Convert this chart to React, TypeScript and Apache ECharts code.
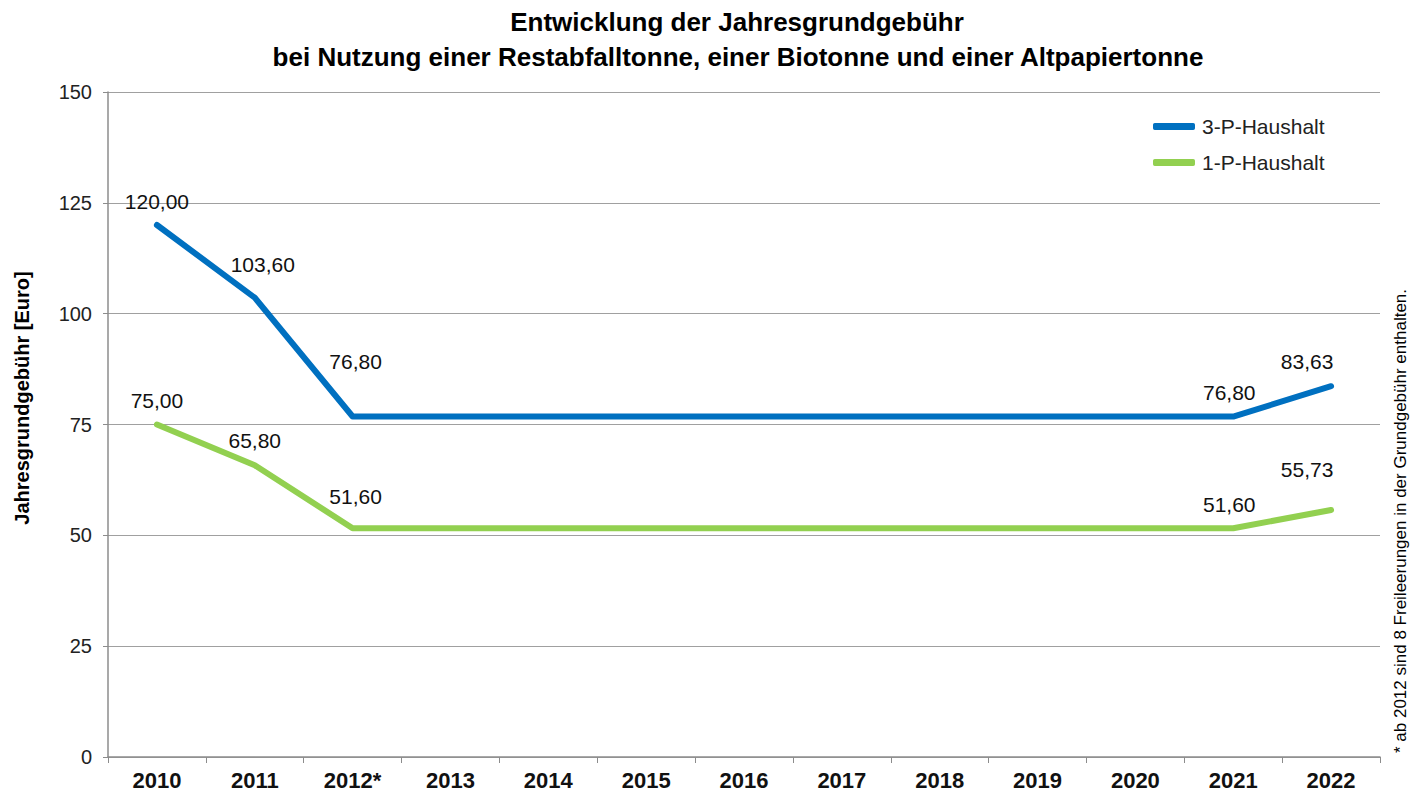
import React, { useEffect, useRef } from "react";
import * as echarts from "echarts";

const years = ["2010", "2011", "2012*", "2013", "2014", "2015", "2016", "2017", "2018", "2019", "2020", "2021", "2022"];
const household3 = [120.0, 103.6, 76.8, 76.8, 76.8, 76.8, 76.8, 76.8, 76.8, 76.8, 76.8, 76.8, 83.63];
const household1 = [75.0, 65.8, 51.6, 51.6, 51.6, 51.6, 51.6, 51.6, 51.6, 51.6, 51.6, 51.6, 55.73];
const labelledIdx = [0, 1, 2, 11, 12];
const yTicks = { min: 0, max: 150, interval: 25 };

const titleLines = ["Entwicklung der Jahresgrundgebühr", "bei Nutzung einer Restabfalltonne, einer Biotonne und einer Altpapiertonne"];
const yName = "Jahresgrundgebühr [Euro]";
const note = "* ab 2012 sind 8 Freileerungen in der Grundgebühr enthalten.";

// label offsets (style only)
const offsets3: Record<number, [number, number]> = { 0: [0, -24], 1: [8, -33], 2: [3, -55], 11: [-4, -24], 12: [-24, -25] };
const offsets1: Record<number, [number, number]> = { 0: [0, -24], 1: [0, -25], 2: [3, -32], 11: [-4, -24], 12: [-24, -40] };

const fmt = (v: number) => v.toFixed(2).replace(".", ",");

function buildData(values: number[], offs: Record<number, [number, number]>) {
  return values.map((v, i) => ({
    value: v,
    label: labelledIdx.includes(i)
      ? { show: true, position: "inside", offset: offs[i], formatter: () => fmt(v) }
      : { show: false },
  }));
}

export default function App() {
  const ref = useRef<HTMLDivElement>(null);
  useEffect(() => {
    document.body.style.margin = "0";
    const chart = echarts.init(ref.current!, undefined, { renderer: "svg" });
    const font = "Liberation Sans, Arial, sans-serif";
    chart.setOption({
      animation: false,
      backgroundColor: "#fff",
      textStyle: { fontFamily: font },
      grid: { left: 108, right: 31, top: 92, bottom: 36, containLabel: false },
      legend: {
        orient: "vertical",
        left: 1148,
        top: 111,
        itemWidth: 42,
        itemHeight: 7,
        itemGap: 15,
        icon: "roundRect",
        textStyle: { fontSize: 21, color: "#222", fontFamily: font, padding: [0, 0, 0, 2] },
        data: ["3-P-Haushalt", "1-P-Haushalt"],
      },
      xAxis: {
        type: "category",
        data: years,
        boundaryGap: true,
        axisLine: { lineStyle: { color: "#8c8c8c", width: 1.5 } },
        axisTick: { show: true, length: 6, lineStyle: { color: "#8c8c8c" } },
        axisLabel: { fontSize: 22, fontWeight: "bold", color: "#111", margin: 12, fontFamily: font },
      },
      yAxis: {
        type: "value",
        min: yTicks.min,
        max: yTicks.max,
        interval: yTicks.interval,
        axisLine: { show: true, lineStyle: { color: "#8c8c8c", width: 1.5 } },
        axisTick: { show: true, length: 5, inside: false, lineStyle: { color: "#8c8c8c" } },
        axisLabel: { fontSize: 20, color: "#222", margin: 16, fontFamily: font },
        splitLine: { show: true, lineStyle: { color: "#a0a0a0", width: 1.2 } },
      },
      graphic: [
        { type: "text", x: 737, y: 22, style: { text: titleLines[0], fill: "#000", font: `bold 26px ${font}`, textAlign: "center", textVerticalAlign: "middle" } },
        { type: "text", x: 738, y: 57, style: { text: titleLines[1], fill: "#000", font: `bold 26px ${font}`, textAlign: "center", textVerticalAlign: "middle" } },
        { type: "text", x: 22, y: 398, rotation: Math.PI / 2, style: { text: yName, fill: "#000", font: `bold 20px ${font}`, textAlign: "center", textVerticalAlign: "middle" } },
        { type: "text", x: 1400, y: 521, rotation: Math.PI / 2, style: { text: note, fill: "#000", font: `17px ${font}`, textAlign: "center", textVerticalAlign: "middle" } },
      ],
      series: [
        {
          name: "3-P-Haushalt",
          type: "line",
          data: buildData(household3, offsets3),
          symbol: "circle",
          symbolSize: 1,
          showSymbol: true,
          itemStyle: { color: "#0070C0" },
          lineStyle: { color: "#0070C0", width: 6, cap: "round", join: "round" },
          label: { fontSize: 21, color: "#111", fontFamily: font },
        },
        {
          name: "1-P-Haushalt",
          type: "line",
          data: buildData(household1, offsets1),
          symbol: "circle",
          symbolSize: 1,
          showSymbol: true,
          itemStyle: { color: "#92D050" },
          lineStyle: { color: "#92D050", width: 6, cap: "round", join: "round" },
          label: { fontSize: 21, color: "#111", fontFamily: font },
        },
      ],
    });
    return () => chart.dispose();
  }, []);
  return <div ref={ref} style={{ width: 1411, height: 793 }} />;
}
